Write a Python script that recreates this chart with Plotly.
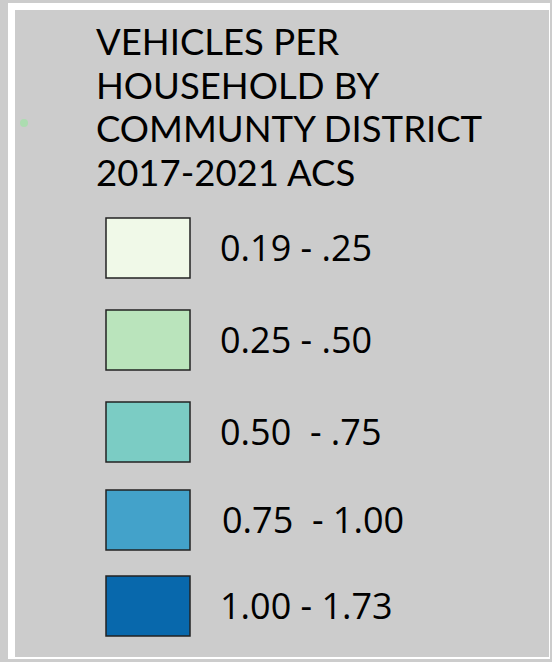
import plotly.graph_objects as go

# ---- data ----
title_lines = ["VEHICLES PER", "HOUSEHOLD BY", "COMMUNTY DISTRICT", "2017-2021 ACS"]
class_labels = ["0.19 - .25", "0.25 - .50", "0.50  - .75", "0.75  - 1.00", "1.00 - 1.73"]
class_colors = ["#f0f9e8", "#bae4bc", "#7bccc4", "#43a2ca", "#0868ac"]

# ---- layout constants (pixels) ----
W, H = 552, 662
swatch_tops = [218, 310, 402, 490, 576]
swatch_x0, swatch_x1, swatch_h = 106, 190, 60
label_x = [218, 218, 218, 220, 218]
title_baselines = [57, 101, 144, 188]

fig = go.Figure()
fig.add_trace(go.Scatter(x=[24], y=[123], mode="markers",
                         marker=dict(size=8, color="#acdcb0"),
                         hoverinfo="skip", showlegend=False))

shapes = [
    dict(type="rect", xref="x", yref="y", x0=8, x1=550, y0=3, y1=659,
         fillcolor="#ffffff", line=dict(width=0), layer="below"),
    dict(type="rect", xref="x", yref="y", x0=15, x1=549, y0=10, y1=657,
         fillcolor="#cccccc", line=dict(width=0), layer="below"),
]
annotations = []
for i, (lab, col) in enumerate(zip(class_labels, class_colors)):
    t = swatch_tops[i]
    shapes.append(dict(type="rect", xref="x", yref="y",
                       x0=swatch_x0, x1=swatch_x1, y0=t, y1=t + swatch_h,
                       fillcolor=col, line=dict(color="#222222", width=1.5)))
    annotations.append(dict(x=label_x[i], y=t + swatch_h / 2 - 1, xref="x", yref="y",
                            text=lab, showarrow=False, xanchor="left", yanchor="middle",
                            font=dict(family="Open Sans", size=36, color="#000000")))

for line, base in zip(title_lines, title_baselines):
    annotations.append(dict(x=94, y=base + 8, xref="x", yref="y", text=line,
                            showarrow=False, xanchor="left", yanchor="bottom",
                            font=dict(family="Lato", size=36.5, color="#000000")))

fig.update_layout(
    width=W, height=H, margin=dict(l=0, r=0, t=0, b=0),
    paper_bgcolor="#cccccc", plot_bgcolor="#cccccc",
    xaxis=dict(range=[0, W], visible=False, fixedrange=True),
    yaxis=dict(range=[H, 0], visible=False, fixedrange=True),
    shapes=shapes, annotations=annotations, showlegend=False,
)
fig.write_html("out.html", config={"displayModeBar": False},
               post_script="document.body.style.margin='0';document.body.style.overflow='hidden';")
